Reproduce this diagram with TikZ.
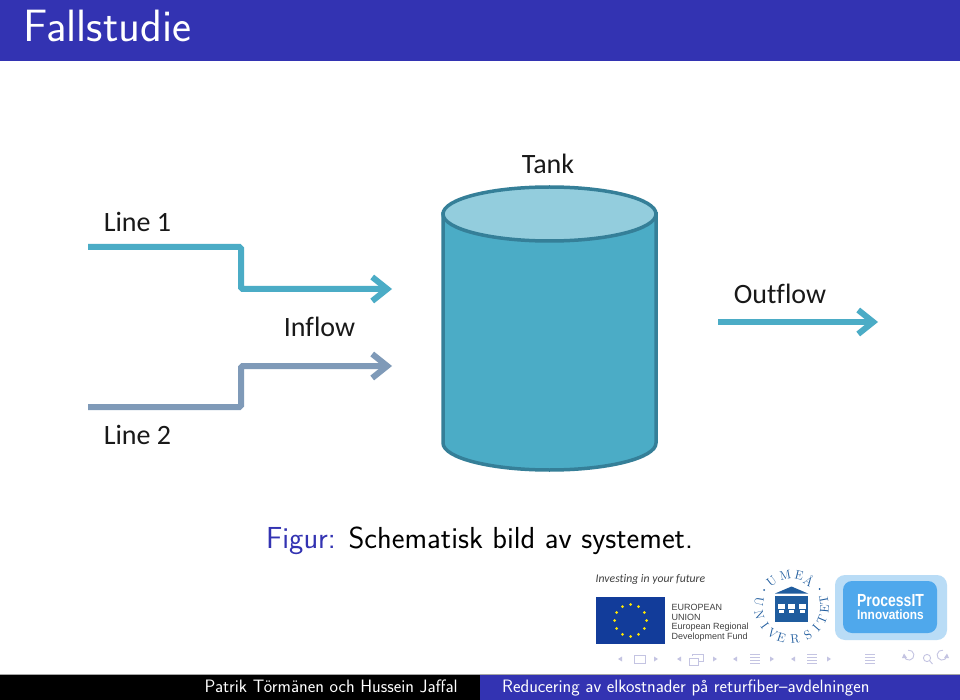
\documentclass[tikz,border=0pt]{standalone}
\usepackage{fontspec}
\usetikzlibrary{arrows.meta,calc}
\newfontfamily\cali[Ligatures=CommonOff]{Carlito}
\newfontfamily\lib{Liberation Sans}
\definecolor{bar}{HTML}{3333B2}
\definecolor{tealb}{HTML}{4BACC6}
\definecolor{tealt}{HTML}{93CDDD}
\definecolor{tealk}{HTML}{357F98}
\definecolor{slateb}{HTML}{7F9AB8}
\definecolor{eublue}{HTML}{123C9A}
\definecolor{umu}{HTML}{1F5C9E}
\definecolor{navc}{HTML}{C4C4E2}
\definecolor{pback}{HTML}{B9DCF6}
\definecolor{pfront}{HTML}{4FA8EC}
\tikzset{
  lbl/.style={font=\cali\fontsize{28}{28}\selectfont,text=black!90,inner sep=0pt,anchor=base},
  flow/.style={line width=6pt,rounded corners=1.5pt,-{Straight Barb[length=15pt,width=24pt,line width=6pt]}},
  capt/.style={font=\sffamily\fontsize{30.4}{31}\selectfont,inner sep=0pt,anchor=base west},
  foot/.style={font=\sffamily\fontsize{17.95}{18}\selectfont,text=white,inner sep=0pt,anchor=base west},
  eut/.style={font=\lib\fontsize{9}{10}\selectfont,text=black!75,inner sep=0pt,anchor=base west},
  seal/.style={font=\rmfamily\fontsize{12.5}{13}\selectfont,text=umu,inner sep=0pt},
  nav/.style={draw=navc,line width=.9pt,fill=none},
  navf/.style={fill=navc,draw=none},
}
\begin{document}
\begin{tikzpicture}[x=1pt,y=-1pt]
\useasboundingbox (0,0) rectangle (960,700);
\fill[white] (0,0) rectangle (960,700);
% title bar
\fill[bar] (0,0) rectangle (960,61.5);
\node[font=\sffamily\fontsize{45.3}{46}\selectfont,text=white,inner sep=0pt,anchor=base west] (title) at (23,42) {Fallstudie};
% tank
\fill[tealb,draw=tealk,line width=3.5pt] (443,214) -- (443,443) arc[start angle=180,end angle=0,x radius=106.5,y radius=27] -- (656,214) -- cycle;
\filldraw[fill=tealt,draw=tealk,line width=3.5pt] (549.5,214) ellipse[x radius=106.5,y radius=27];
\node[lbl] (tank) at (548,174) {Tank};
% flows
\coordinate (a1) at (88,247); \coordinate (a2) at (241,247); \coordinate (a3) at (241,289); \coordinate (a4) at (392,289);
\coordinate (b1) at (88,407); \coordinate (b2) at (241,407); \coordinate (b3) at (241,366); \coordinate (b4) at (392,366);
\coordinate (c1) at (718,322); \coordinate (c2) at (878,322);
\draw[flow,tealb] (a1) -- (a2) -- (a3) -- (a4);
\draw[flow,slateb] (b1) -- (b2) -- (b3) -- (b4);
\draw[flow,tealb] (c1) -- (c2);
\node[lbl] (l1) at (137.5,232) {Line 1};
\node[lbl] (l2) at (137.5,444) {Line 2};
\node[lbl] (in) at (319.5,336) {Inflow};
\node[lbl] (out) at (780,303) {Outflow};
% caption
\node[capt] (cp) at (266,548) {\textcolor{bar}{Figur:} Schematisk bild av systemet.};
% EU block
\node[font=\cali\itshape\fontsize{11.7}{12}\selectfont,text=black!75,inner sep=0pt,anchor=base west] (inv) at (595.5,582) {Investing in your future};
\fill[eublue] (596,597) rectangle (665,644);
\foreach \a in {0,30,...,330}
  \fill[yellow!90!orange] ($(630.5,620.5)+(\a:16pt)$) circle (1.5pt);
\node[eut] at (671.5,610) {EUROPEAN};
\node[eut] at (671.5,620) {UNION};
\node[eut] at (671.5,629.5) {European Regional};
\node[eut] at (671.5,639.5) {Development Fund};
% seal
\coordinate (sc) at (791.5,606.5);
\foreach \ch/\a in {U/128,M/101,E/76,Å/56}
  \node[seal,rotate=\a-90] at ($(sc)+(\a:32pt)$) {\ch};
\foreach \ch/\a in {U/171,N/194,I/216,V/235,E/252,R/276,S/300,I/319,T/337,E/355,T/11}
  \node[seal,rotate=\a+90] at ($(sc)+(\a:33pt)$) {\ch};
\fill[umu] (764,590) circle (1pt) (819.5,589) circle (1pt);
\fill[umu] (775,593.5) -- (791.5,586.5) -- (808,593.5) -- cycle;
\fill[umu] (775,596) rectangle (808,621.5);
\foreach \x in {781,791.5,802}{
  \fill[white] (\x-3.5,604) rectangle (\x+3.5,609);
  \fill[white] (\x-2.5,610) rectangle (\x+2.5,613);
}
% ProcessIT
\fill[pback,rounded corners=10pt] (835,575) rectangle (947,640);
\fill[pfront,rounded corners=9pt] (843,581) rectangle (937,633);
\node[font=\lib\bfseries\fontsize{17.5}{18}\selectfont,text=white,inner sep=0pt,xscale=.8] (pi) at (890.5,600.7) {ProcessIT};
\node[font=\lib\bfseries\fontsize{13.5}{14}\selectfont,text=white,inner sep=0pt,xscale=.88] (pi2) at (890.5,615) {Innovations};
% nav symbols
\fill[navf] (618,659) -- (622,656.5) -- (622,661.5) -- cycle;
\draw[nav] (634,655.5) rectangle (645,663);
\fill[navf] (658,659) -- (654,656.5) -- (654,661.5) -- cycle;
\fill[navf] (677,659) -- (681,656.5) -- (681,661.5) -- cycle;
\draw[nav] (689,658) rectangle (698,665);
\draw[nav] (692,656) -- (692,654.5) -- (703,654.5) -- (703,661.5) -- (698,661.5);
\fill[navf] (717,659) -- (713,656.5) -- (713,661.5) -- cycle;
\fill[navf] (733,659) -- (737,656.5) -- (737,661.5) -- cycle;
\foreach \y in {654.5,657.5,660.5,663.5} \draw[nav] (750,\y) -- (760,\y);
\fill[navf] (774,659) -- (770,656.5) -- (770,661.5) -- cycle;
\fill[navf] (791,659) -- (795,656.5) -- (795,661.5) -- cycle;
\foreach \y in {654.5,657.5,660.5,663.5} \draw[nav] (807,\y) -- (817,\y);
\fill[navf] (831,659) -- (827,656.5) -- (827,661.5) -- cycle;
\foreach \y in {654.5,657.5,660.5,663.5} \draw[nav] (865,\y) -- (875,\y);
\draw[nav] (904,656) arc[start angle=170,end angle=-100,radius=5];
\fill[navf] (902,658) -- (907,658) -- (904,653.5) -- cycle;
\draw[nav] (927,658) circle (3.6pt) (929.5,660.5) -- (932.5,664);
\draw[nav] (947,656) arc[start angle=10,end angle=280,radius=5];
\fill[navf] (949,658) -- (944,658) -- (947,653.5) -- cycle;
% footer
\fill[black] (0,674) rectangle (480,700);
\fill[bar] (480,674) rectangle (960,700);
\draw[gray!70,line width=.8pt] (0,674) -- (960,674);
\node[foot] (f1) at (204.5,692.5) {Patrik Törmänen och Hussein Jaffal};
\node[foot] (f2) at (502,692.5) {Reducering av elkostnader på returfiber--avdelningen};
\end{tikzpicture}
\end{document}
